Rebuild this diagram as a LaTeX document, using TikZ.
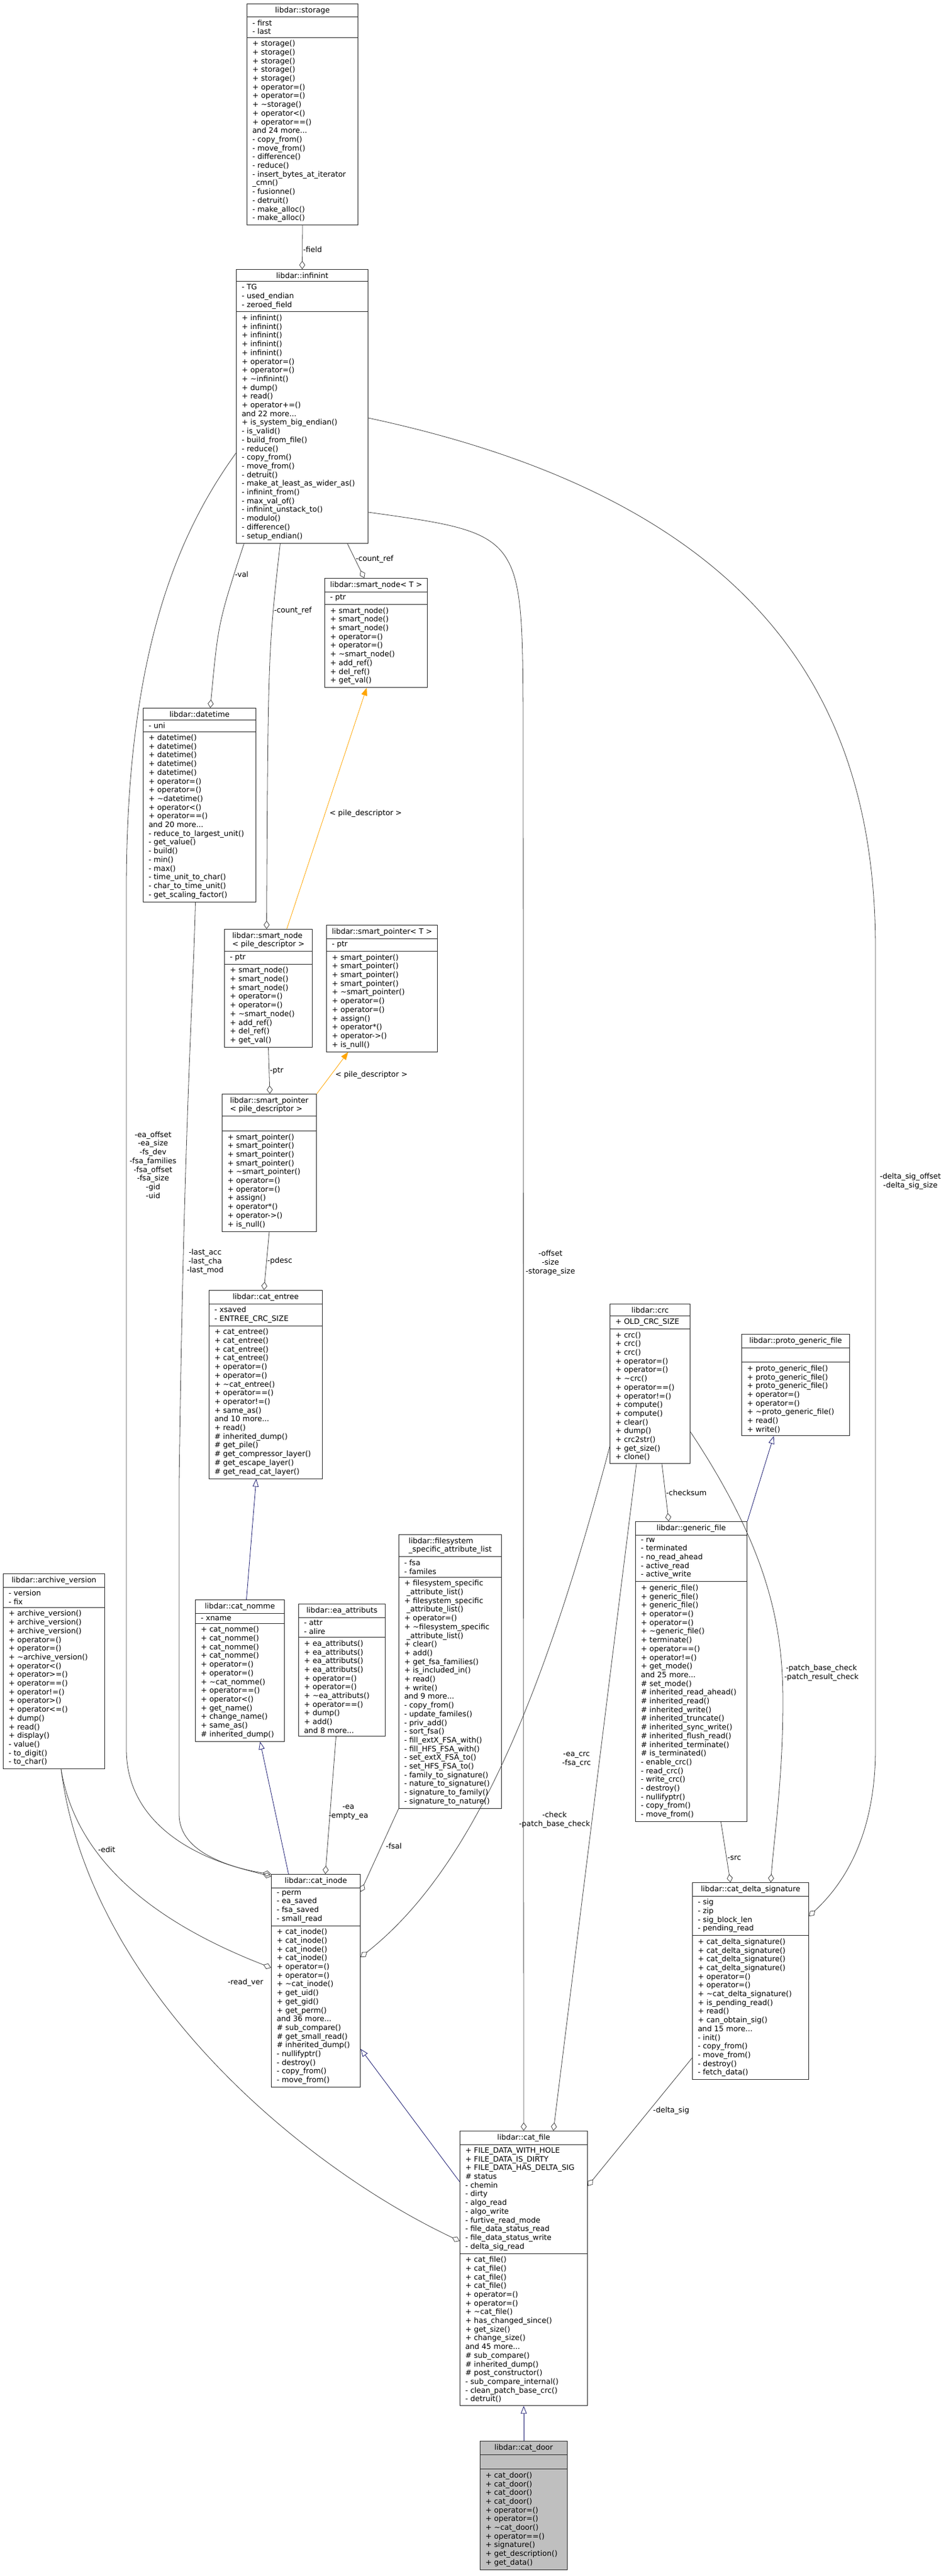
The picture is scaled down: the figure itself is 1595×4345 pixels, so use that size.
\documentclass[tikz,border=0pt]{standalone}
\usepackage{fontspec}
\setmainfont{DejaVu Sans}
\usetikzlibrary{shapes.multipart,arrows.meta}

\definecolor{edgegray}{HTML}{404040}
\definecolor{inheritblue}{HTML}{191970}
\definecolor{tmplorange}{HTML}{FFA500}
\definecolor{doorfill}{HTML}{BFBFBF}

\tikzset{
    classbox/.style={draw=black!85, line width=1pt, rectangle split, rectangle split parts=3,
        rectangle split part align={center,left,left}, align=left, anchor=north west,
        inner xsep=9pt, inner ysep=4.5pt, font=\fontsize{12.6}{14.7}\selectfont},
    aggr/.style={draw=edgegray, line width=0.8pt, {Diamond[open,length=14pt,width=10pt]}-},
    inherit/.style={draw=inheritblue, line width=0.8pt, -{Triangle[open,length=13pt,width=10pt]}},
    tmpl/.style={draw=tmplorange, line width=0.8pt, -{Triangle[length=13pt,width=10pt,fill=tmplorange]}},
    role/.style={font=\fontsize{12.6}{14.7}\selectfont, align=center, inner sep=1pt}
}

\begin{document}
\begin{tikzpicture}[x=1pt, y=-1pt]
    \useasboundingbox (0,0) rectangle (1595,4345);

    \newcommand{\umlclass}[7][]{
        \node[classbox, minimum width=#4pt, #1] (#2) at (#3) {#5\nodepart{two}#6\nodepart{three}#7};
    }

    \umlclass{storage}{416,6}{187}{libdar::storage}{- first\\- last}
        {+ storage()\\+ storage()\\+ storage()\\+ storage()\\+ storage()\\+ operator=()\\+ operator=()\\+ \textasciitilde storage()\\+ operator<()\\+ operator==()\\and 24 more...\\- copy\_from()\\- move\_from()\\- difference()\\- reduce()\\- insert\_bytes\_at\_iterator\\\_cmn()\\- fusionne()\\- detruit()\\- make\_alloc()\\- make\_alloc()};
    \umlclass{infinint}{398,454}{222}{libdar::infinint}{- TG\\- used\_endian\\- zeroed\_field}
        {+ infinint()\\+ infinint()\\+ infinint()\\+ infinint()\\+ infinint()\\+ operator=()\\+ operator=()\\+ \textasciitilde infinint()\\+ dump()\\+ read()\\+ operator+=()\\and 22 more...\\+ is\_system\_big\_endian()\\- is\_valid()\\- build\_from\_file()\\- reduce()\\- copy\_from()\\- move\_from()\\- detruit()\\- make\_at\_least\_as\_wider\_as()\\- infinint\_from()\\- max\_val\_of()\\- infinint\_unstack\_to()\\- modulo()\\- difference()\\- setup\_endian()};
    \umlclass{snodeT}{547,975}{153}{libdar::smart\_node< T >}{- ptr}
        {+ smart\_node()\\+ smart\_node()\\+ smart\_node()\\+ operator=()\\+ operator=()\\+ \textasciitilde smart\_node()\\+ add\_ref()\\+ del\_ref()\\+ get\_val()};
    \umlclass{datetime}{241,1194}{190}{libdar::datetime}{- uni}
        {+ datetime()\\+ datetime()\\+ datetime()\\+ datetime()\\+ datetime()\\+ operator=()\\+ operator=()\\+ \textasciitilde datetime()\\+ operator<()\\+ operator==()\\and 20 more...\\- reduce\_to\_largest\_unit()\\- get\_value()\\- build()\\- min()\\- max()\\- time\_unit\_to\_char()\\- char\_to\_time\_unit()\\- get\_scaling\_factor()};
    \umlclass{snodepile}{378,1567}{148}{libdar::smart\_node\\< pile\_descriptor >}{- ptr}
        {+ smart\_node()\\+ smart\_node()\\+ smart\_node()\\+ operator=()\\+ operator=()\\+ \textasciitilde smart\_node()\\+ add\_ref()\\+ del\_ref()\\+ get\_val()};
    \umlclass{spointerT}{550,1560}{150}{libdar::smart\_pointer< T >}{- ptr}
        {+ smart\_pointer()\\+ smart\_pointer()\\+ smart\_pointer()\\+ smart\_pointer()\\+ \textasciitilde smart\_pointer()\\+ operator=()\\+ operator=()\\+ assign()\\+ operator*()\\+ operator->()\\+ is\_null()};
    \umlclass{spointerpile}{374,1845}{159}{libdar::smart\_pointer\\< pile\_descriptor >}{\strut}
        {+ smart\_pointer()\\+ smart\_pointer()\\+ smart\_pointer()\\+ smart\_pointer()\\+ \textasciitilde smart\_pointer()\\+ operator=()\\+ operator=()\\+ assign()\\+ operator*()\\+ operator->()\\+ is\_null()};
    \umlclass{entree}{352,2176}{191}{libdar::cat\_entree}{- xsaved\\- ENTREE\_CRC\_SIZE}
        {+ cat\_entree()\\+ cat\_entree()\\+ cat\_entree()\\+ cat\_entree()\\+ operator=()\\+ operator=()\\+ \textasciitilde cat\_entree()\\+ operator==()\\+ operator!=()\\+ same\_as()\\and 10 more...\\+ read()\\\# inherited\_dump()\\\# get\_pile()\\\# get\_compressor\_layer()\\\# get\_escape\_layer()\\\# get\_read\_cat\_layer()};
    \umlclass{crc}{1028,2199}{135}{libdar::crc}{+ OLD\_CRC\_SIZE}
        {+ crc()\\+ crc()\\+ crc()\\+ operator=()\\+ operator=()\\+ \textasciitilde crc()\\+ operator==()\\+ operator!=()\\+ compute()\\+ compute()\\+ clear()\\+ dump()\\+ crc2str()\\+ get\_size()\\+ clone()};
    \umlclass{proto}{1250,2250}{182}{libdar::proto\_generic\_file}{\strut}
        {+ proto\_generic\_file()\\+ proto\_generic\_file()\\+ proto\_generic\_file()\\+ operator=()\\+ operator=()\\+ \textasciitilde proto\_generic\_file()\\+ read()\\+ write()};
    \umlclass{gfile}{1071,2566}{188}{libdar::generic\_file}{- rw\\- terminated\\- no\_read\_ahead\\- active\_read\\- active\_write}
        {+ generic\_file()\\+ generic\_file()\\+ generic\_file()\\+ operator=()\\+ operator=()\\+ \textasciitilde generic\_file()\\+ terminate()\\+ operator==()\\+ operator!=()\\+ get\_mode()\\and 25 more...\\\# set\_mode()\\\# inherited\_read\_ahead()\\\# inherited\_read()\\\# inherited\_write()\\\# inherited\_truncate()\\\# inherited\_sync\_write()\\\# inherited\_flush\_read()\\\# inherited\_terminate()\\\# is\_terminated()\\- enable\_crc()\\- read\_crc()\\- write\_crc()\\- destroy()\\- nullifyptr()\\- copy\_from()\\- move\_from()};
    \umlclass{fsal}{672,2588}{173}{libdar::filesystem\\\_specific\_attribute\_list}{- fsa\\- familes}
        {+ filesystem\_specific\\\ \_attribute\_list()\\+ filesystem\_specific\\\ \_attribute\_list()\\+ operator=()\\+ \textasciitilde filesystem\_specific\\\ \_attribute\_list()\\+ clear()\\+ add()\\+ get\_fsa\_families()\\+ is\_included\_in()\\+ read()\\+ write()\\and 9 more...\\- copy\_from()\\- update\_familes()\\- priv\_add()\\- sort\_fsa()\\- fill\_extX\_FSA\_with()\\- fill\_HFS\_FSA\_with()\\- set\_extX\_FSA\_to()\\- set\_HFS\_FSA\_to()\\- family\_to\_signature()\\- nature\_to\_signature()\\- signature\_to\_family()\\- signature\_to\_nature()};
    \umlclass{avers}{5,2654}{171}{libdar::archive\_version}{- version\\- fix}
        {+ archive\_version()\\+ archive\_version()\\+ archive\_version()\\+ operator=()\\+ operator=()\\+ \textasciitilde archive\_version()\\+ operator<()\\+ operator>=()\\+ operator==()\\+ operator!=()\\+ operator>()\\+ operator<=()\\+ dump()\\+ read()\\+ display()\\- value()\\- to\_digit()\\- to\_char()};
    \umlclass{nomme}{329,2698}{150}{libdar::cat\_nomme}{- xname}
        {+ cat\_nomme()\\+ cat\_nomme()\\+ cat\_nomme()\\+ cat\_nomme()\\+ operator=()\\+ operator=()\\+ \textasciitilde cat\_nomme()\\+ operator==()\\+ operator<()\\+ get\_name()\\+ change\_name()\\+ same\_as()\\\# inherited\_dump()};
    \umlclass{ea}{503,2705}{146}{libdar::ea\_attributs}{- attr\\- alire}
        {+ ea\_attributs()\\+ ea\_attributs()\\+ ea\_attributs()\\+ ea\_attributs()\\+ operator=()\\+ operator=()\\+ \textasciitilde ea\_attributs()\\+ operator==()\\+ dump()\\+ add()\\and 8 more...};
    \umlclass{inode}{457,3161}{150}{libdar::cat\_inode}{- perm\\- ea\_saved\\- fsa\_saved\\- small\_read}
        {+ cat\_inode()\\+ cat\_inode()\\+ cat\_inode()\\+ cat\_inode()\\+ operator=()\\+ operator=()\\+ \textasciitilde cat\_inode()\\+ get\_uid()\\+ get\_gid()\\+ get\_perm()\\and 36 more...\\\# sub\_compare()\\\# get\_small\_read()\\\# inherited\_dump()\\- nullifyptr()\\- destroy()\\- copy\_from()\\- move\_from()};
    \umlclass{cdelta}{1167,3175}{196}{libdar::cat\_delta\_signature}{- sig\\- zip\\- sig\_block\_len\\- pending\_read}
        {+ cat\_delta\_signature()\\+ cat\_delta\_signature()\\+ cat\_delta\_signature()\\+ cat\_delta\_signature()\\+ operator=()\\+ operator=()\\+ \textasciitilde cat\_delta\_signature()\\+ is\_pending\_read()\\+ read()\\+ can\_obtain\_sig()\\and 15 more...\\- init()\\- copy\_from()\\- move\_from()\\- destroy()\\- fetch\_data()};
    \umlclass{file}{775,3594}{215}{libdar::cat\_file}{+ FILE\_DATA\_WITH\_HOLE\\+ FILE\_DATA\_IS\_DIRTY\\+ FILE\_DATA\_HAS\_DELTA\_SIG\\\# status\\- chemin\\- dirty\\- algo\_read\\- algo\_write\\- furtive\_read\_mode\\- file\_data\_status\_read\\- file\_data\_status\_write\\- delta\_sig\_read}
        {+ cat\_file()\\+ cat\_file()\\+ cat\_file()\\+ cat\_file()\\+ operator=()\\+ operator=()\\+ \textasciitilde cat\_file()\\+ has\_changed\_since()\\+ get\_size()\\+ change\_size()\\and 45 more...\\\# sub\_compare()\\\# inherited\_dump()\\\# post\_constructor()\\- sub\_compare\_internal()\\- clean\_patch\_base\_crc()\\- detruit()};
    \umlclass[fill=doorfill]{door}{809,4117}{147}{libdar::cat\_door}{\strut}
        {+ cat\_door()\\+ cat\_door()\\+ cat\_door()\\+ cat\_door()\\+ operator=()\\+ operator=()\\+ \textasciitilde cat\_door()\\+ operator==()\\+ signature()\\+ get\_description()\\+ get\_data()};

    \draw[aggr] (infinint.north) -- (storage.south) node[role, pos=0.45, right] {-field};
    \draw[aggr] ([xshift=-20pt]snodeT.north) -- ([xshift=76pt]infinint.south) node[role, pos=0.55, right] {-count\_ref};
    \draw[aggr] ([xshift=18pt]datetime.north) .. controls (368,1050) .. ([xshift=-98pt]infinint.south) node[role, pos=0.85, right] {-val};
    \draw[aggr] ([xshift=-3pt]snodepile.north) .. controls (452,1100) .. ([xshift=-37pt]infinint.south) node[role, pos=0.75, right] {-count\_ref};
    \draw[tmpl] ([xshift=31pt]snodepile.north) -- ([xshift=-16pt]snodeT.south) node[role, pos=0.48, right=6pt] {< pile\_descriptor >};
    \draw[aggr] ([xshift=1pt]spointerpile.north) -- (snodepile.south) node[role, pos=0.5, right] {-ptr};
    \draw[tmpl] (spointerpile.north east) -- ([xshift=-57pt]spointerT.south) node[role, pos=0.45, right=6pt] {< pile\_descriptor >};
    \draw[aggr] ([xshift=-3pt]entree.north) -- (spointerpile.south) node[role, pos=0.5, right] {-pdesc};
    \draw[inherit] ([xshift=11pt]nomme.north) -- ([xshift=-16pt]entree.south);
    \draw[inherit] ([xshift=-46pt]inode.north) -- ([xshift=34pt]nomme.south);
    \draw[aggr] (inode.north west) .. controls (380,3150) and (213,3100) .. (213,2950) -- (213,1500)
        .. controls (213,1100) and (300,900) .. ([yshift=-310pt]infinint.north west);
    \node[role] at (258,1965) {-ea\_offset\\-ea\_size\\-fs\_dev\\-fsa\_families\\-fsa\_offset\\-fsa\_size\\-gid\\-uid};
    \draw[aggr] ([yshift=-4pt]inode.north west) .. controls (400,3150) and (302,3130) .. (302,3060) -- (302,2500)
        .. controls (310,1900) and (325,1700) .. ([xshift=-7pt]datetime.south);
    \node[role] at (346,2128) {-last\_acc\\-last\_cha\\-last\_mod};
    \draw[aggr] ([yshift=-158pt]inode.north west) .. controls (280,3250) and (130,3150) .. ([xshift=12pt]avers.south);
    \node[role] at (414,3344) {-read\_ver};
    \draw[aggr] ([yshift=-186pt]file.north west) .. controls (500,3650) and (150,3350) .. ([xshift=12pt]avers.south);
    \node[role] at (180,3120) {-edit};
    \draw[aggr] ([xshift=16pt]inode.north) -- ([xshift=-10pt]ea.south) node[role, pos=0.45, right=-4pt] {-ea\\-empty\_ea};
    \draw[aggr] ([yshift=-30pt]inode.north east) -- (fsal.south west) node[role, pos=0.55, right=6pt] {-fsal};
    \draw[aggr] ([yshift=-140pt]inode.north east) .. controls (800,3150) and (920,2850) .. ([yshift=-241pt]crc.north west);
    \node[role] at (972,2968) {-ea\_crc\\-fsa\_crc};
    \draw[aggr] ([xshift=50pt]file.north) -- ([xshift=-23pt]crc.south);
    \node[role, anchor=east] at (996,3070) {-check\\-patch\_base\_check};
    \draw[aggr] (file.north) -- (882,1200) .. controls (880,900) .. ([yshift=-410pt]infinint.north east);
    \node[role] at (928,2130) {-offset\\-size\\-storage\_size};
    \draw[aggr] ([yshift=-57pt]cdelta.north east) .. controls (1420,3180) and (1476,3100) .. (1476,2950) -- (1476,1600)
        .. controls (1476,1200) and (1300,850) .. ([yshift=-251pt]infinint.north east);
    \node[role] at (1535,1993) {-delta\_sig\_offset\\-delta\_sig\_size};
    \draw[aggr] ([xshift=-38pt]gfile.north) -- ([xshift=20pt]crc.south) node[role, pos=0.5, right] {-checksum};
    \draw[inherit] (gfile.north east) -- ([xshift=-37pt]proto.south);
    \draw[aggr] ([xshift=34pt]cdelta.north) .. controls (1305,3100) and (1320,3000) .. (1320,2870)
        .. controls (1320,2750) and (1300,2620) .. ([yshift=-216pt]crc.north east);
    \node[role] at (1385,2822) {-patch\_base\_check\\-patch\_result\_check};
    \draw[aggr] ([xshift=-34pt]cdelta.north) -- ([xshift=50pt]gfile.south) node[role, pos=0.4, right] {-src};
    \draw[aggr] ([yshift=-93pt]file.north east) -- ([yshift=-296pt]cdelta.north west);
    \node[role, anchor=west] at (1100,3560) {-delta\_sig};
    \draw[inherit] ([yshift=-86pt]file.north west) -- ([yshift=-295pt]inode.north east);
    \draw[inherit] (door.north) -- (file.south);
\end{tikzpicture}
\end{document}
